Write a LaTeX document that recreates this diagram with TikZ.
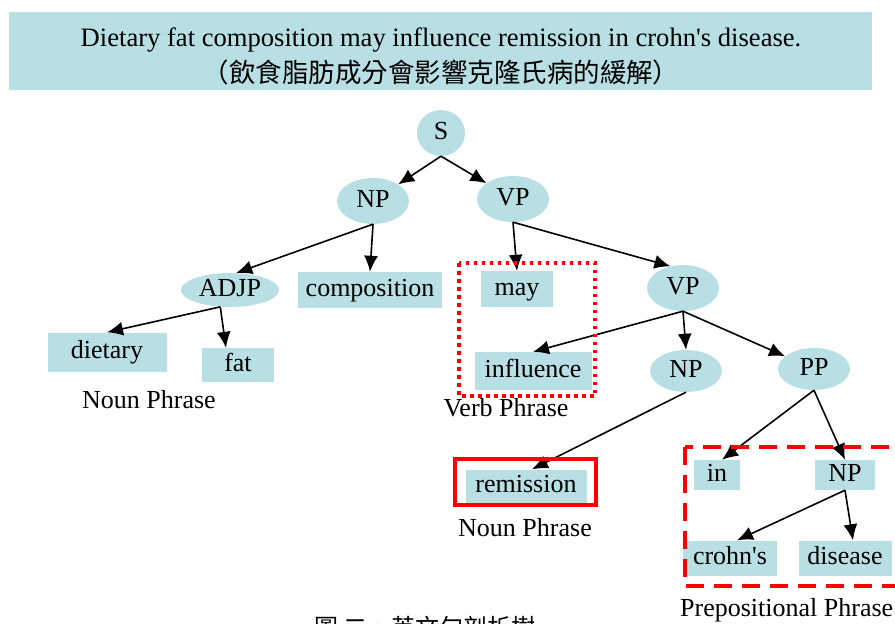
\documentclass[tikz,border=0pt]{standalone}
\usepackage{fontspec}
\setmainfont{Liberation Serif}
\newfontfamily\cjk{Noto Sans CJK TC}
\usetikzlibrary{shapes.geometric,arrows.meta}
\definecolor{treeblue}{RGB}{184,223,227}
\definecolor{markred}{RGB}{255,0,0}

\begin{document}
\begin{tikzpicture}[x=1pt,y=-1pt,
  font=\fontsize{26}{30}\selectfont,
  phrase/.style={ellipse,fill=treeblue,inner sep=0pt,minimum width=72pt,minimum height=46pt,
    text height=18pt,text depth=6pt},
  word/.style={rectangle,fill=treeblue,inner sep=0pt,minimum height=35pt,
    text height=18pt,text depth=6pt},
  arr/.style={-{Latex[length=16pt,width=14pt]},line width=1.6pt},
  phrasename/.style={inner sep=0pt,text height=18pt,text depth=6pt}]
  \clip (0,0) rectangle (895,624);
  % title
  \fill[treeblue] (9,12) rectangle (872,90);
  \node[font=\fontsize{26.6}{30}\selectfont] (title) at (441,40) {Dietary fat composition may influence remission in crohn\textquotesingle s disease.};
  \node[font=\cjk\fontsize{26.5}{30}\selectfont] (titlezh) at (441,72) {（飲食脂肪成分會影響克隆氏病的緩解）};
  % phrase nodes
  \node[phrase,minimum width=48pt] (S) at (441,133) {S};
  \node[phrase] (NP) at (373,201) {NP};
  \node[phrase] (VP) at (513,199) {VP};
  \node[phrase,minimum width=98pt,minimum height=34pt] (ADJP) at (230,290) {ADJP};
  \node[phrase] (VPb) at (683,288) {VP};
  \node[phrase,minimum height=42pt] (NPb) at (686,371) {NP};
  \node[phrase,minimum height=42pt] (PP) at (814,369) {PP};
  % word nodes
  \node[word,minimum width=144pt,minimum height=36pt] (comp) at (370,290) {composition};
  \node[word,minimum width=72pt,minimum height=36pt] (may) at (517,289) {may};
  \node[word,minimum width=119pt,minimum height=39pt] (dietary) at (107,352) {dietary};
  \node[word,minimum width=72pt,minimum height=34pt] (fat) at (238,365) {fat};
  \node[word,minimum width=117pt,minimum height=38pt] (influence) at (533,371) {influence};
  \node[word,minimum width=121pt,minimum height=33pt] (remission) at (526,486) {remission};
  \node[word,minimum width=46pt,minimum height=30pt] (prepin) at (717,475) {in};
  \node[word,minimum width=60pt,minimum height=30pt] (NPc) at (845,475) {NP};
  \node[word,minimum width=94pt] (crohns) at (730,558) {crohn\textquotesingle s};
  \node[word,minimum width=93pt] (disease) at (845,558) {disease};
  % connectors
  \draw[arr] (S.south) -- (NP);
  \draw[arr] (S.south) -- (VP);
  \draw[arr] (NP.south) -- (ADJP.70);
  \draw[arr] (NP.south) -- (comp.north);
  \draw[arr] (VP.south) -- (may.north);
  \draw[arr] (VP.south) -- (VPb.120);
  \draw[arr] (ADJP.240) -- (dietary.north);
  \draw[arr] (ADJP.240) -- ([xshift=-12pt]fat.north);
  \draw[arr] (VPb.south) -- (influence.north);
  \draw[arr] (VPb.south) -- (NPb.north);
  \draw[arr] (VPb.south) -- (PP);
  \draw[arr] (NPb.south) -- ([xshift=6pt]remission.north);
  \draw[arr] (PP.south) -- ([xshift=5pt]prepin.north);
  \draw[arr] (PP.south) -- (NPc.north);
  \draw[arr] (NPc.south) -- ([xshift=7pt]crohns.north);
  \draw[arr] (NPc.south) -- ([xshift=8pt]disease.north);
  % phrase marks
  \draw[markred,line width=3.5pt,dash pattern=on 3.5pt off 4.5pt] (459,263) rectangle (595,396);
  \draw[markred,line width=4pt] (455,459) rectangle (596,505);
  \draw[markred,line width=4pt,dash pattern=on 18pt off 10pt] (685,447) rectangle (900,586);
  \node[phrasename] (npname) at (149,402) {Noun Phrase};
  \node[phrasename] (vpname) at (506,410) {Verb Phrase};
  \node[phrasename] (npnameb) at (525,530) {Noun Phrase};
  \node[phrasename,anchor=west] (ppname) at (680,610) {Prepositional Phrase};
  \node[font=\cjk\fontsize{24}{28}\selectfont] (caption) at (425,627) {圖 二、英文句剖析樹};
\end{tikzpicture}
\end{document}
